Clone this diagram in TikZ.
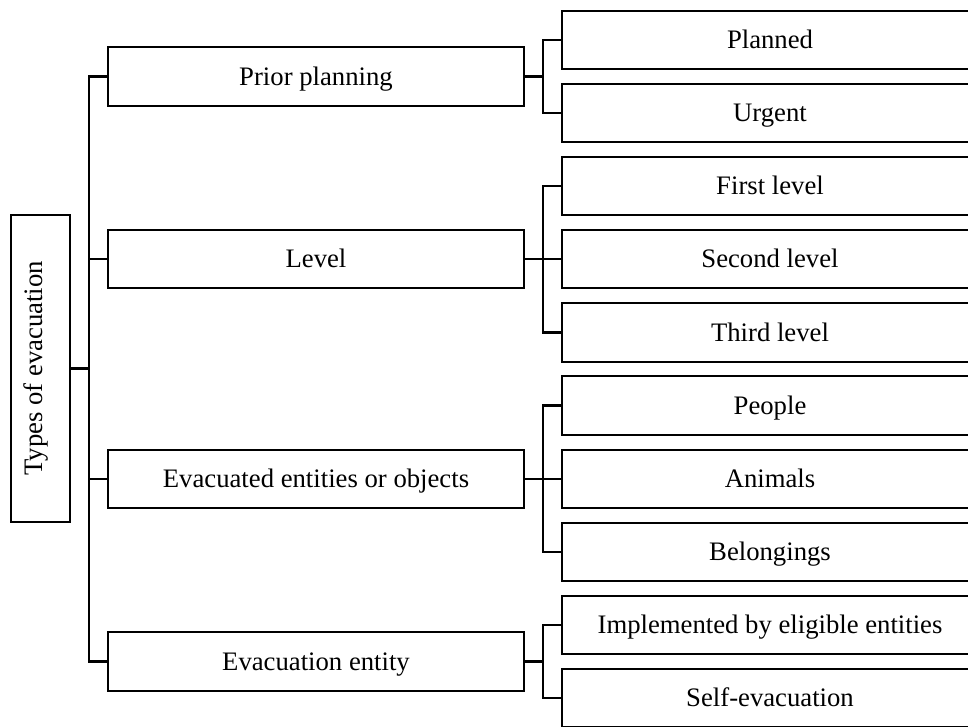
\documentclass[tikz,border=0pt]{standalone}
\usepackage{fontspec}
\setmainfont{Liberation Serif}
\usepackage{tikz}
\usetikzlibrary{positioning, calc}

\tikzset{
    box/.style={draw, line width=2.2pt, inner sep=0pt, minimum width=416pt, minimum height=58.5pt,
                text height=17.7pt, text depth=0pt, font=\fontsize{26.7}{32}\selectfont},
    rootbox/.style={box, rotate=90, minimum width=307pt, minimum height=59pt, text depth=14pt},
    conn/.style={line width=2.2pt}
}

\begin{document}
\begin{tikzpicture}[x=1pt, y=-1pt]
            \clip (0,0) rectangle (968,726);

            \node[rootbox] (root) at (40.5, 368.5) {Types of evacuation};

            \node[box] (prior) at (316, 76.5) {Prior planning};
            \node[box] (level) at (316, 259) {Level};
            \node[box] (objects) at (316, 479) {Evacuated entities or objects};
            \node[box] (entity) at (316, 661.5) {Evacuation entity};

            \node[box] (planned) at (770, 40) {Planned};
            \node[box] (urgent) at (770, 113) {Urgent};
            \node[box] (first) at (770, 186) {First level};
            \node[box] (second) at (770, 259) {Second level};
            \node[box] (third) at (770, 332.5) {Third level};
            \node[box] (people) at (770, 405.5) {People};
            \node[box] (animals) at (770, 479) {Animals};
            \node[box] (belong) at (770, 552) {Belongings};
            \node[box] (eligible) at (770, 625) {Implemented by eligible entities};
            \node[box] (self) at (770, 698) {Self-evacuation};

            \coordinate (trunk) at (89, 0);
            \coordinate (br) at (543, 0);

            % root to second column
            \draw[conn] (root.south) -- (root.south -| trunk);
            \draw[conn] (prior.west) -- (prior.west -| trunk) -- (entity.west -| trunk) -- (entity.west);
            \draw[conn] (level.west) -- (level.west -| trunk);
            \draw[conn] (objects.west) -- (objects.west -| trunk);

            % second column to leaves
            \draw[conn] (prior.east) -- (prior.east -| br);
            \draw[conn] (planned.west) -- (planned.west -| br) -- (urgent.west -| br) -- (urgent.west);

            \draw[conn] (level.east) -- (second.west);
            \draw[conn] (first.west) -- (first.west -| br) -- (third.west -| br) -- (third.west);

            \draw[conn] (objects.east) -- (animals.west);
            \draw[conn] (people.west) -- (people.west -| br) -- (belong.west -| br) -- (belong.west);

            \draw[conn] (entity.east) -- (entity.east -| br);
            \draw[conn] (eligible.west) -- (eligible.west -| br) -- (self.west -| br) -- (self.west);
        \end{tikzpicture}
\end{document}
